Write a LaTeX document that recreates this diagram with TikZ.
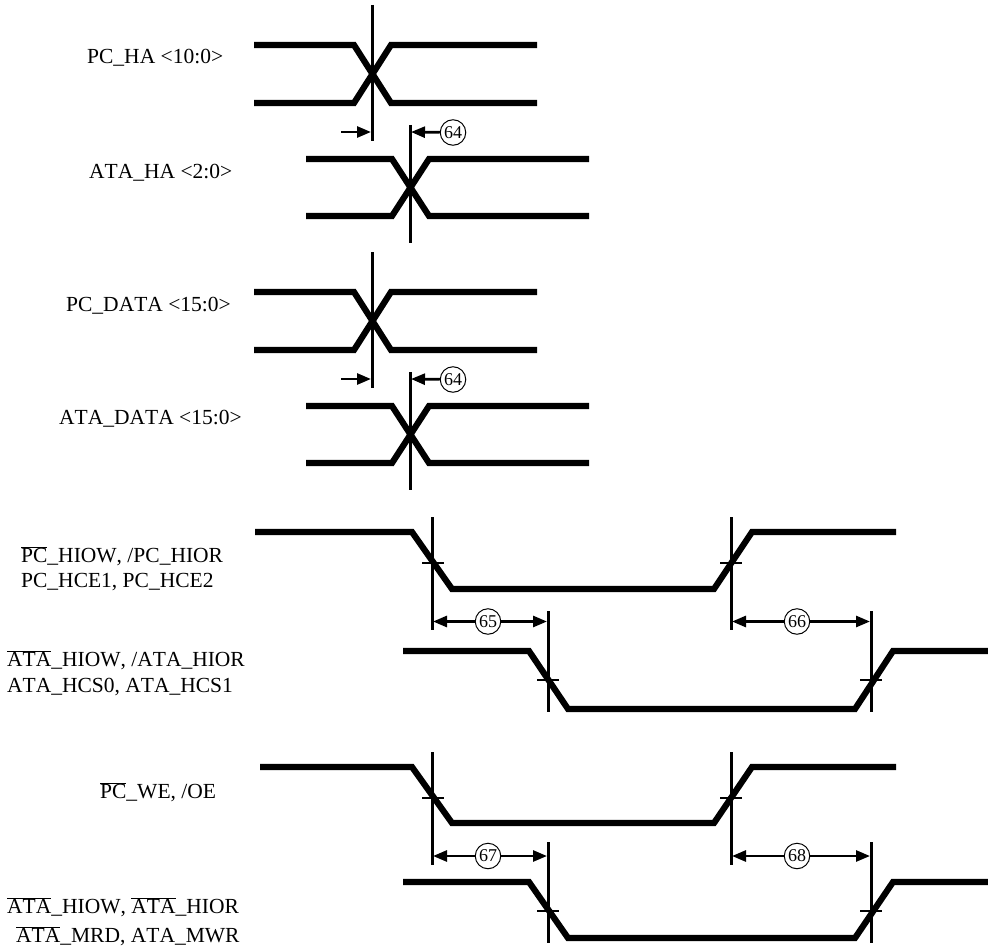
\documentclass[tikz,border=0pt]{standalone}
\usepackage{fontspec}
\setmainfont[Kerning=Off]{Liberation Serif}
\usetikzlibrary{arrows.meta}
\newcommand{\ovl}[1]{$\overline{\mbox{#1}}$}
\tikzset{
  wave/.style={line width=6.2pt,line join=miter,line cap=butt},
  guide/.style={line width=3pt},
  tick/.style={line width=2.5pt},
  dim/.style={line width=2.7pt,-{Triangle[length=14pt,width=11pt]}},
  num/.style={circle,draw,line width=1pt,inner sep=0pt,minimum size=25.5pt,fill=white,font=\fontsize{18}{18}\selectfont},
  lab/.style={anchor=west,inner sep=0pt,font=\fontsize{21.5}{21.5}\selectfont}
}
\newcommand{\cross}[6]{%
  \draw[wave] (#1,#5) -- (#2,#5) -- (#3,#6) -- (#4,#6);
  \draw[wave] (#1,#6) -- (#2,#6) -- (#3,#5) -- (#4,#5);
}
\newcommand{\pulse}[8]{%
  \draw[wave] (#1,#7) -- (#2,#7) -- (#3,#8) -- (#4,#8) -- (#5,#7) -- (#6,#7);
}
\begin{document}
\begin{tikzpicture}[x=1pt,y=-1pt]
\useasboundingbox (0,0) rectangle (988,947);
% bus groups
\cross{254}{354}{391}{537}{45}{103}
\cross{306}{392}{429}{589}{159}{216}
\cross{254}{354}{391}{537}{292}{350}
\cross{306}{392}{429}{589}{406}{463}
\draw[guide] (372,5) coordinate (a1) -- (372,141) coordinate (a2);
\draw[guide] (410,125) coordinate (b1) -- (410,243) coordinate (b2);
\draw[guide] (372,252) coordinate (c1) -- (372,388) coordinate (c2);
\draw[guide] (410,372) coordinate (d1) -- (410,490) coordinate (d2);
\coordinate (f1) at (341,132);
\coordinate (t1) at (371,132);
\coordinate (t2) at (411,132);
\node[num] (n641) at (453,132.5) {64};
\draw[dim] (f1) -- (t1);
\draw[dim] (n641) -- (t2);
\coordinate (f2) at (341,379);
\coordinate (t3) at (371,379);
\coordinate (t4) at (411,379);
\node[num] (n642) at (453,379.5) {64};
\draw[dim] (f2) -- (t3);
\draw[dim] (n642) -- (t4);
% pulses
\pulse{255}{412}{452}{714}{752}{896}{532}{589}
\pulse{403}{529}{568}{855}{893}{988}{651}{709}
\pulse{260}{412}{452}{714}{752}{896}{767}{823}
\pulse{403}{529}{568}{855}{893}{988}{882}{938}
% guides row 1
\draw[guide] (432.5,517) coordinate (e1) -- (432.5,630) coordinate (e2);
\draw[tick] (422,563) -- (444,563);
\draw[guide] (731,517) coordinate (g1) -- (731,630) coordinate (g2);
\draw[tick] (720,563) -- (742,563);
\draw[guide] (548,611) coordinate (h1) -- (548,712) coordinate (h2);
\draw[tick] (537,680) -- (559,680);
\draw[guide] (871,611) coordinate (i1) -- (871,712) coordinate (i2);
\draw[tick] (860,680) -- (882,680);
\coordinate (e3) at (433,621.5);
\coordinate (h3) at (547,621.5);
\coordinate (g3) at (732,621.5);
\coordinate (i3) at (870,621.5);
\node[num] (n65) at (488,621.5) {65};
\node[num] (n66) at (797,621.5) {66};
\draw[dim] (n65) -- (e3);
\draw[dim] (n65) -- (h3);
\draw[dim] (n66) -- (g3);
\draw[dim] (n66) -- (i3);
% guides row 2
\draw[guide] (432.5,752) coordinate (j1) -- (432.5,865) coordinate (j2);
\draw[tick] (422,798) -- (444,798);
\draw[guide] (731,752) coordinate (k1) -- (731,865) coordinate (k2);
\draw[tick] (720,798) -- (742,798);
\draw[guide] (548,842) coordinate (l1) -- (548,943) coordinate (l2);
\draw[tick] (537,911) -- (559,911);
\draw[guide] (871,842) coordinate (m1) -- (871,943) coordinate (m2);
\draw[tick] (860,911) -- (882,911);
\coordinate (j3) at (433,856);
\coordinate (l3) at (547,856);
\coordinate (k3) at (732,856);
\coordinate (m3) at (870,856);
\node[num] (n67) at (488,856) {67};
\node[num] (n68) at (797,856) {68};
\draw[dim] (n67) -- (j3);
\draw[dim] (n67) -- (l3);
\draw[dim] (n68) -- (k3);
\draw[dim] (n68) -- (m3);
% labels
\node[lab] (L1) at (87,58) {PC\_HA <10:0>};
\node[lab] (L2) at (89,173) {ATA\_HA <2:0>};
\node[lab] (L3) at (66,306) {PC\_DATA <15:0>};
\node[lab] (L4) at (59,419) {ATA\_DATA <15:0>};
\node[lab] (L5) at (21,556) {\ovl{PC}\_HIOW, /PC\_HIOR};
\node[lab] (L6) at (21,582) {PC\_HCE1, PC\_HCE2};
\node[lab] (L7) at (7,660) {\ovl{ATA}\_HIOW, /ATA\_HIOR};
\node[lab] (L8) at (7,687) {ATA\_HCS0, ATA\_HCS1};
\node[lab] (L9) at (100,792) {\ovl{PC}\_WE, /OE};
\node[lab] (L10) at (7,907) {\ovl{ATA}\_HIOW, \ovl{ATA}\_HIOR};
\node[lab] (L11) at (16,936) {\ovl{ATA}\_MRD, ATA\_MWR};
\end{tikzpicture}
\end{document}
